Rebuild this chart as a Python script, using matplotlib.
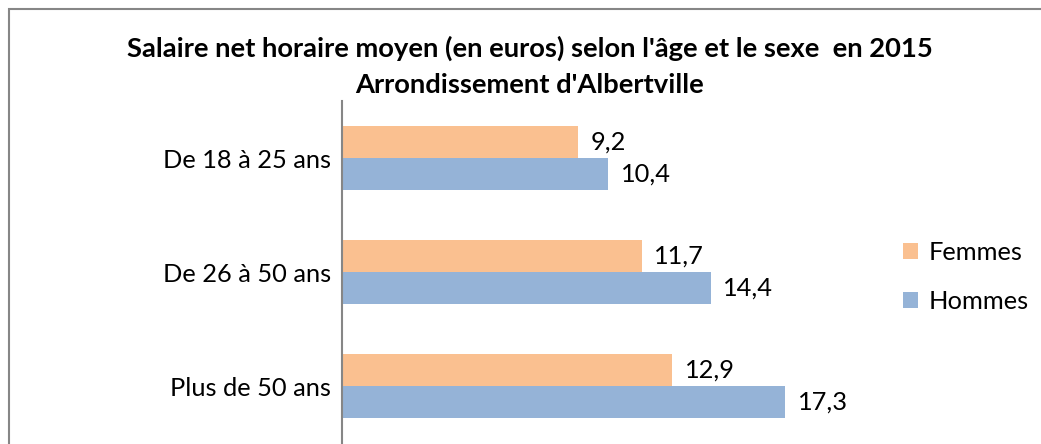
import matplotlib
matplotlib.use("Agg")
import matplotlib.pyplot as plt
from matplotlib.patches import Rectangle
import numpy as np

plt.rcParams['font.family'] = ['Lato', 'DejaVu Sans']

categories = ["De 18 à 25 ans", "De 26 à 50 ans", "Plus de 50 ans"]
femmes = [9.2, 11.7, 12.9]
hommes = [10.4, 14.4, 17.3]
series_names = ["Femmes", "Hommes"]
colors = ["#FAC090", "#95B3D7"]
title_lines = ["Salaire net horaire moyen (en euros) selon l'âge et le sexe  en 2015",
               "Arrondissement d'Albertville"]

W, H = 1041, 444
fig = plt.figure(figsize=(W / 100, H / 100), dpi=100)

# chart border (cut on right and bottom)
fig.patches.append(Rectangle((9 / W, -0.1), 1.2, 1 - 9 / H + 0.1, transform=fig.transFigure,
                             fill=False, edgecolor="#868686", linewidth=1.5))

xmax = 20
left_px, top_px, bottom_px = 342, 101, 443
px_per_unit = 25.6
right_px = left_px + xmax * px_per_unit
ax = fig.add_axes([left_px / W, 1 - bottom_px / H, (right_px - left_px) / W, (bottom_px - top_px) / H])

y = np.arange(len(categories))
h = 0.285
ax.barh(y - h / 2, femmes, height=h, color=colors[0], label=series_names[0])
ax.barh(y + h / 2, hommes, height=h, color=colors[1], label=series_names[1])

fs = 18.3
for yi, v in zip(y, femmes):
    ax.text(v + 0.5, yi - h / 2, f"{v:.1f}".replace(".", ","), va="center", ha="left", fontsize=fs)
for yi, v in zip(y, hommes):
    ax.text(v + 0.5, yi + h / 2, f"{v:.1f}".replace(".", ","), va="center", ha="left", fontsize=fs)

ax.set_xlim(0, xmax)
ax.set_ylim(len(categories) - 0.5, -0.5)
ax.set_yticks(y)
ax.set_yticklabels(categories, fontsize=fs)
ax.tick_params(axis="y", length=0, pad=8)
ax.set_xticks([])
for s in ["top", "right", "bottom"]:
    ax.spines[s].set_visible(False)
ax.spines["left"].set_color("#868686")
ax.spines["left"].set_linewidth(1.5)

fig.text(530 / W, 1 - 48 / H, title_lines[0], ha="center", va="center", fontsize=19.7, fontweight="bold")
fig.text(530 / W, 1 - 85 / H, title_lines[1], ha="center", va="center", fontsize=19.7, fontweight="bold")

leg = fig.legend(loc="center left", bbox_to_anchor=(893 / W, 1 - 277 / H), frameon=False,
                 fontsize=fs, handlelength=0.6, handleheight=0.6, handletextpad=0.4,
                 labelspacing=1.0, borderaxespad=0)

fig.savefig("out.png", dpi=100)
